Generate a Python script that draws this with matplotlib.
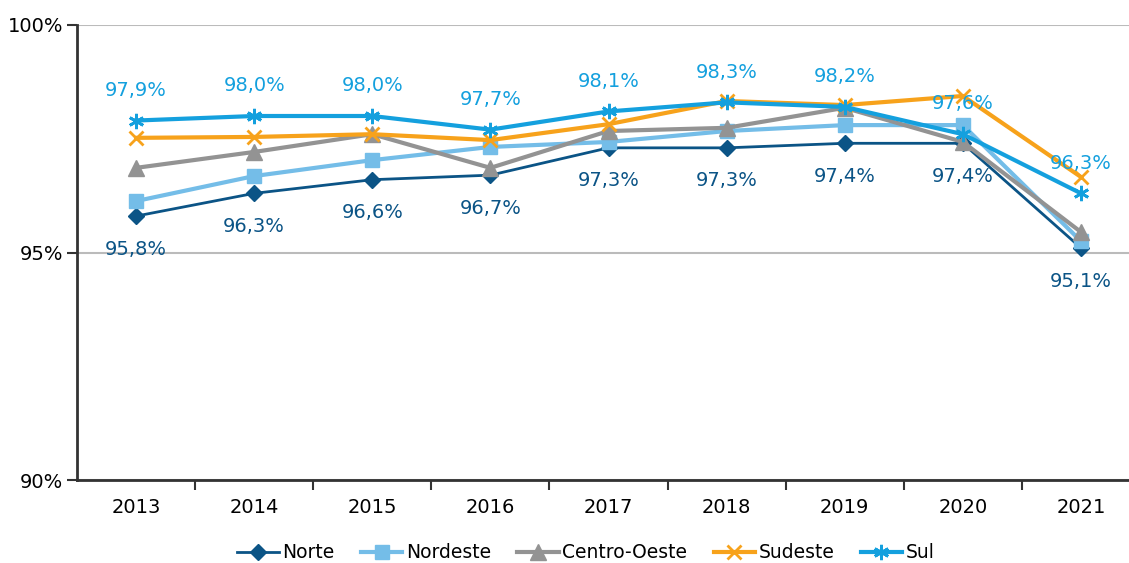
import matplotlib.pyplot as plt
import matplotlib.ticker as mticker

plt.rcParams['font.family'] = ['DejaVu Sans']

anos = ['2013', '2014', '2015', '2016', '2017', '2018', '2019', '2020', '2021']

norte = [95.8, 96.3, 96.6, 96.7, 97.3, 97.3, 97.4, 97.4, 95.1]
nordeste = [96.13, 96.68, 97.03, 97.32, 97.43, 97.67, 97.80, 97.80, 95.25]
centro_oeste = [96.86, 97.21, 97.60, 96.86, 97.67, 97.74, 98.18, 97.43, 95.45]
sudeste = [97.52, 97.54, 97.60, 97.47, 97.82, 98.33, 98.24, 98.44, 96.66]
sul = [97.9, 98.0, 98.0, 97.7, 98.1, 98.3, 98.2, 97.6, 96.3]

c_norte = '#0B5486'
c_nordeste = '#74BDE8'
c_co = '#939393'
c_sudeste = '#F7A21B'
c_sul = '#14A0DE'

fig = plt.figure(figsize=(11.29, 5.63), dpi=100)
ax = fig.add_axes([77 / 1129, 1 - 480 / 563, 1063 / 1129, 455 / 563])

x = list(range(len(anos)))
ax.plot(x, norte, color=c_norte, lw=2, marker='D', ms=8, label='Norte', zorder=3)
ax.plot(x, nordeste, color=c_nordeste, lw=3, marker='s', ms=10, label='Nordeste', zorder=4)
ax.plot(x, centro_oeste, color=c_co, lw=3, marker='^', ms=11, label='Centro-Oeste', zorder=5)
ax.plot(x, sudeste, color=c_sudeste, lw=3, marker='x', ms=10, mew=2, label='Sudeste', zorder=6)
ax.plot(x, sul, color=c_sul, lw=3, marker=(6, 2, 0), ms=11, mew=2, label='Sul', zorder=7)

for i, v in enumerate(sul):
    ax.annotate(f'{v:.1f}%'.replace('.', ','), (i, v), xytext=(0, 15), textcoords='offset points',
                ha='center', va='bottom', fontsize=14, color=c_sul, zorder=8)
for i, v in enumerate(norte):
    ax.annotate(f'{v:.1f}%'.replace('.', ','), (i, v), xytext=(0, -17), textcoords='offset points',
                ha='center', va='top', fontsize=14, color=c_norte, zorder=8)

ax.set_xlim(-0.5, len(anos) - 0.5)
ax.set_ylim(90, 100)
ax.set_yticks([90, 95, 100])
ax.yaxis.set_major_formatter(mticker.FuncFormatter(lambda v, p: f'{v:.0f}%'))
ax.set_xticks(x)
ax.set_xticklabels(anos)
ax.set_xticks([i + 0.5 for i in x[:-1]], minor=True)
ax.tick_params(axis='x', which='major', length=0, labelsize=14, pad=13)
ax.tick_params(axis='x', which='minor', length=7, width=1.5, color='#333333')
ax.tick_params(axis='y', length=7, width=1.5, color='#333333', labelsize=14, pad=3)
ax.yaxis.grid(True, color='#BBBBBB', lw=1.5)
ax.set_axisbelow(True)
for s in ['top', 'right']:
    ax.spines[s].set_visible(False)
for s in ['left', 'bottom']:
    ax.spines[s].set_color('#333333')
    ax.spines[s].set_linewidth(2)

fig.legend(loc='center', bbox_to_anchor=(586 / 1129, 1 - 553 / 563), ncol=5, frameon=False,
           fontsize=13.5, handlelength=2.2, columnspacing=1.4, handletextpad=0.2)

fig.savefig('out.png', dpi=100)
